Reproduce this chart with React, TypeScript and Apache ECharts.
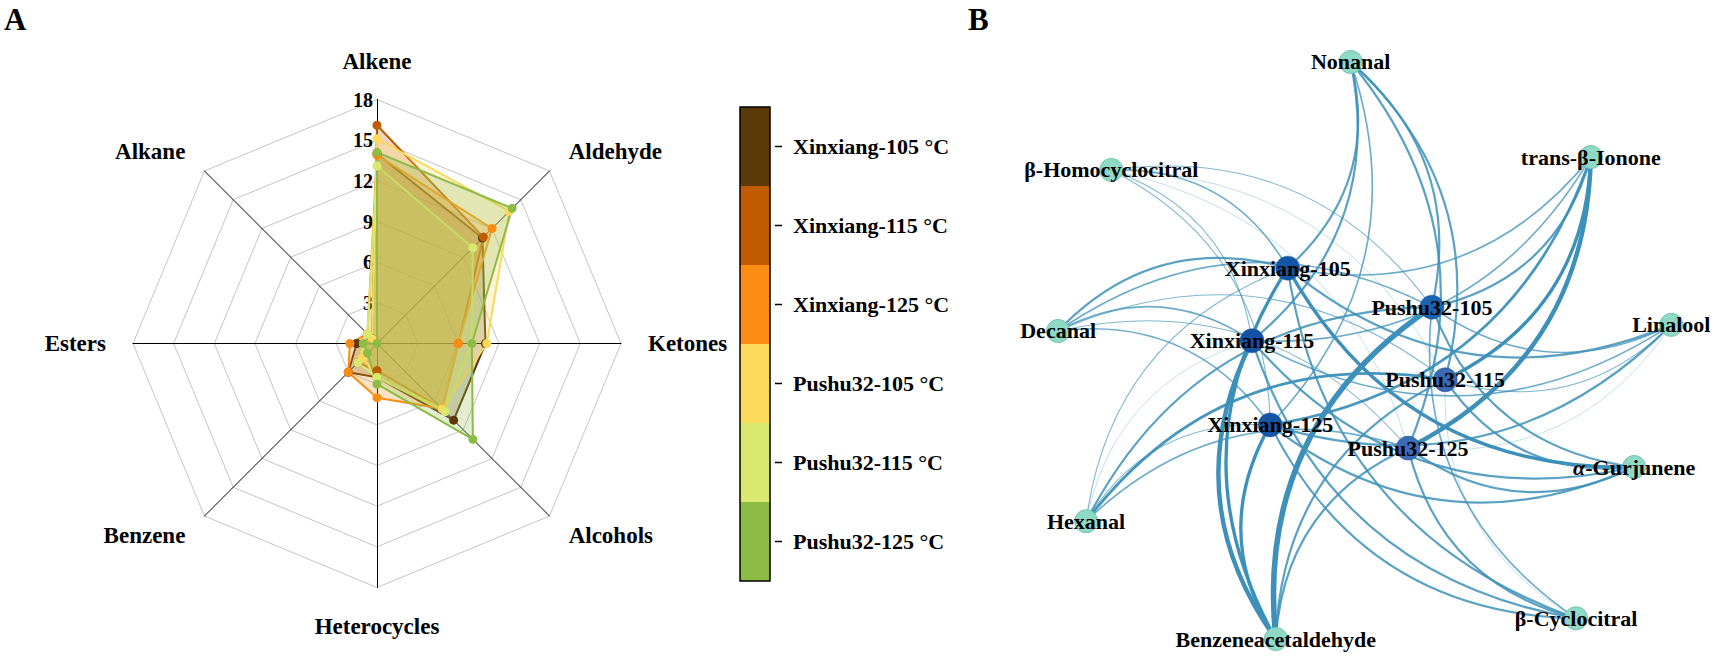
import React, { useEffect, useRef } from "react";
import * as echarts from "echarts";

const FONT = "'Times New Roman', 'Liberation Serif', serif";

// ---------- Panel A: radar ----------
// indicator order (ECharts lays them out counter-clockwise from the top)
const indicatorNames = ["Alkene", "Alkane", "Esters", "Benzene", "Heterocycles", "Alcohols", "Ketones", "Aldehyde"];
const indicatorMax = 18;
const sampleNames = ["Xinxiang-105 °C", "Xinxiang-115 °C", "Xinxiang-125 °C", "Pushu32-105 °C", "Pushu32-115 °C", "Pushu32-125 °C"];
const sampleColors = ["#5c3a08", "#c05b04", "#fc8c14", "#fdd95c", "#d9e86f", "#8cbb46"];
const xinxiang105 = [14.0, 0.5, 1.5, 3.0, 2.5, 8.0, 8.0, 11.0];
const xinxiang115 = [16.1, 0.5, 1.0, 2.0, 2.0, 6.8, 6.0, 11.1];
const xinxiang125 = [13.9, 1.0, 2.0, 3.0, 4.0, 6.8, 6.0, 12.0];
const pushu105 = [15.1, 0.5, 1.0, 1.5, 2.5, 6.8, 8.1, 13.8];
const pushu115 = [13.1, 1.0, 1.0, 2.0, 2.5, 7.1, 7.0, 10.0];
const pushu125 = [14.1, 0.0, 1.0, 1.0, 3.0, 10.0, 7.0, 14.1];
const radarValues = [xinxiang105, xinxiang115, xinxiang125, pushu105, pushu115, pushu125];

// ---------- Panel B: network ----------
const sampleNodes = ["Xinxiang-105", "Xinxiang-115", "Xinxiang-125", "Pushu32-105", "Pushu32-115", "Pushu32-125"];
const sampleNodeX = [41.1, 36.0, 38.6, 61.7, 63.6, 58.3];
const sampleNodeY = [62.6, 50.7, 36.9, 56.2, 44.3, 33.1];
const sampleNodeColors = ["#1456a6", "#1452a3", "#1755a5", "#1864b1", "#3b68b3", "#3e6bb5"];
const compoundNodes = ["Nonanal", "trans-β-Ionone", "β-Homocyclocitral", "Linalool", "Decanal", "α-Gurjunene", "Hexanal", "β-Cyclocitral", "Benzeneacetaldehyde"];
const compoundNodeX = [50.1, 84.4, 15.9, 95.9, 8.3, 90.6, 12.3, 82.3, 39.4];
const compoundNodeY = [96.4, 80.8, 78.7, 53.3, 52.3, 30.0, 21.1, 5.2, 1.8];
// link weights: rows = compounds, columns = sampleNodes
const wNonanal = [2, 2, 1.5, 2, 2, 2];
const wIonone = [1.5, 1.5, 2.5, 2, 3, 4];
const wHomocyclocitral = [1.5, 1, 1, 1, 0.5, 0.5];
const wLinalool = [2, 1.5, 2, 1.5, 1, 0.5];
const wDecanal = [2, 1.5, 1.5, 1.5, 1, 1];
const wGurjunene = [3, 2, 2, 2, 2, 2];
const wHexanal = [1, 0.5, 1, 2, 2.5, 1.5];
const wCyclocitral = [2, 2, 2, 1.5, 0.5, 2];
const wBenzeneacetaldehyde = [3, 4, 3, 5, 2, 2];
const linkWeights = [wNonanal, wIonone, wHomocyclocitral, wLinalool, wDecanal, wGurjunene, wHexanal, wCyclocitral, wBenzeneacetaldehyde];

export default function App() {
  const ref = useRef<HTMLDivElement>(null);
  useEffect(() => {
    if (!ref.current) return;
    const chart = echarts.init(ref.current, null, { renderer: "svg" });

    const nodes: any[] = [];
    sampleNodes.forEach((n, i) => {
      nodes.push({
        name: n,
        value: [sampleNodeX[i], sampleNodeY[i]],
        symbolSize: 24,
        itemStyle: { color: sampleNodeColors[i], borderColor: "#0f4a90", borderWidth: 0.5 },
      });
    });
    compoundNodes.forEach((n, i) => {
      nodes.push({
        name: n,
        value: [compoundNodeX[i], compoundNodeY[i]],
        symbolSize: 23,
        itemStyle: { color: "#8fd9c7", borderColor: "#74c4b2", borderWidth: 1 },
      });
    });
    const links: any[] = [];
    compoundNodes.forEach((c, i) => {
      sampleNodes.forEach((s, j) => {
        const w = linkWeights[i][j];
        links.push({
          source: c,
          target: s,
          value: w,
          lineStyle: { width: w * 1.1, opacity: Math.min(1, 0.45 + 0.2 * w) },
        });
      });
    });

    chart.setOption({
      animation: false,
      title: [
        { text: "A", left: 4, top: 4, padding: 0, textStyle: { fontFamily: FONT, fontSize: 31, fontWeight: "bold", color: "#000" } },
        { text: "B", left: 968, top: 4, padding: 0, textStyle: { fontFamily: FONT, fontSize: 31, fontWeight: "bold", color: "#000" } },
      ],
      legend: {
        orient: "vertical",
        left: 740,
        top: 107,
        padding: 0,
        itemWidth: 30,
        itemHeight: 79,
        itemGap: 0,
        icon: "rect",
        selectedMode: false,
        data: sampleNames,
        itemStyle: { borderWidth: 0 },
        formatter: (n: string) => "{t|}{g|}" + n,
        textStyle: {
          fontFamily: FONT,
          fontSize: 22,
          fontWeight: "bold",
          color: "#000",
          rich: {
            t: { width: 7, height: 1.5, backgroundColor: "#000" },
            g: { width: 11 },
          },
        },
      },
      graphic: [
        { type: "rect", shape: { x: 740, y: 107, width: 30, height: 474 }, style: { fill: "none", stroke: "#000", lineWidth: 1.5 }, z: 100 },
      ],
      radar: {
        center: [377, 343.5],
        radius: 244,
        startAngle: 90,
        splitNumber: 6,
        axisNameGap: 27,
        axisName: { color: "#000", fontSize: 23, fontWeight: "bold", fontFamily: FONT },
        indicator: indicatorNames.map((n, i) =>
          i === 0
            ? {
                name: n,
                min: 0,
                max: indicatorMax,
                axisLabel: { show: true, color: "#000", fontSize: 20, fontWeight: "bold", fontFamily: FONT, margin: 4, showMinLabel: false },
              }
            : { name: n, min: 0, max: indicatorMax }
        ),
        axisLine: { lineStyle: { color: "#000", width: 1 } },
        axisTick: { show: false },
        axisLabel: { show: false },
        splitLine: { lineStyle: { color: "#c4c4c4", width: 1 } },
        splitArea: { show: false },
      },
      grid: { left: 1000, top: 40, width: 700, height: 610 },
      xAxis: { type: "value", min: 0, max: 100, show: false },
      yAxis: { type: "value", min: 0, max: 100, show: false },
      series: [
        {
          type: "radar",
          symbol: "circle",
          symbolSize: 9,
          data: radarValues.map((v, i) => ({
            name: sampleNames[i],
            value: v,
            itemStyle: { color: sampleColors[i] },
            lineStyle: { color: sampleColors[i], width: 2 },
            areaStyle: { color: sampleColors[i], opacity: 0.25 },
          })),
        },
        {
          type: "graph",
          coordinateSystem: "cartesian2d",
          layout: "none",
          data: nodes,
          links: links,
          lineStyle: { color: "#3d90b9", curveness: 0.3 },
          label: {
            show: true,
            position: "inside",
            color: "#000",
            fontFamily: FONT,
            fontSize: 22,
            fontWeight: "bold",
            formatter: (p: any) => (p.name === "α-Gurjunene" ? "{i|α}-Gurjunene" : p.name),
            rich: { i: { fontStyle: "italic", fontFamily: FONT, fontSize: 22, fontWeight: "bold", color: "#000" } },
          },
          emphasis: { disabled: true },
        },
      ],
    });
    return () => chart.dispose();
  }, []);
  return <div ref={ref} style={{ position: "absolute", left: 0, top: 0, width: 1716, height: 657 }} />;
}
